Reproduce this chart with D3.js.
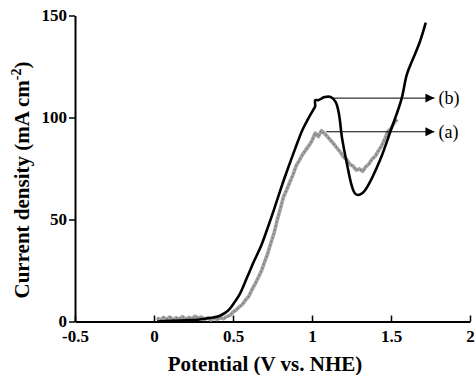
<!DOCTYPE html>
<html><head><meta charset="utf-8">
<script src="https://cdn.jsdelivr.net/npm/d3@7"></script>
<style>body{margin:0;background:#fff}</style>
</head><body>
<svg id="c" width="475" height="375"></svg>
<script>
// Data (Potential V vs NHE, current density mA cm-2)
const curveB = [[0.02,0],[0.1,0.3],[0.2,0.6],[0.29,1.0],[0.36,1.8],[0.41,2.6],[0.45,4.2],[0.475,5.8],[0.51,9.5],[0.54,13],[0.59,21.8],[0.63,29],[0.68,37.5],[0.72,46],[0.76,55],[0.82,69],[0.89,84],[0.94,94],[0.98,100],[1.01,104],[1.02,105.5],[1.02,108.5],[1.04,108.5],[1.08,110],[1.12,110],[1.15,107.5],[1.17,102],[1.19,90],[1.22,77.7],[1.25,67],[1.27,63],[1.29,62],[1.32,63],[1.35,66],[1.43,79],[1.50,94],[1.565,108.6],[1.60,121],[1.635,128],[1.68,136.5],[1.72,146.5]];
const curveA = [[0.02,1.8],[0.04,0.6],[0.06,2.0],[0.08,1.0],[0.10,2.2],[0.12,0.8],[0.14,1.8],[0.16,1.2],[0.18,2.4],[0.20,1.0],[0.22,2.0],[0.24,1.4],[0.26,2.6],[0.28,1.6],[0.30,2.2],[0.32,1.0],[0.34,1.8],[0.36,0.8],[0.38,1.6],[0.40,1.0],[0.42,1.8],[0.44,1.4],[0.46,2.4],[0.48,3.0],[0.50,4.6],[0.52,5.6],[0.54,7.2],[0.56,8.4],[0.58,10.6],[0.60,12.4],[0.62,15.6],[0.64,18.4],[0.66,21.6],[0.68,24.8],[0.70,29.2],[0.72,33.4],[0.74,38.6],[0.76,43.4],[0.78,49.8],[0.80,55.4],[0.82,61.2],[0.84,64.6],[0.86,68.4],[0.88,72.0],[0.90,76.4],[0.92,79.0],[0.94,81.8],[0.96,84.0],[0.98,86.2],[1.00,88.6],[1.02,92.4],[1.04,90.6],[1.06,93.6],[1.08,92.0],[1.10,90.4],[1.12,88.6],[1.14,86.8],[1.16,84.8],[1.18,83.0],[1.20,80.6],[1.22,79.4],[1.24,77.0],[1.26,76.2],[1.28,74.2],[1.30,74.8],[1.32,73.6],[1.34,75.8],[1.36,77.2],[1.38,79.6],[1.40,81.0],[1.42,83.6],[1.44,86.0],[1.46,89.4],[1.48,93.2],[1.50,94.6],[1.52,97.4],[1.54,99.0]];
const xTicks = [-0.5,0,0.5,1,1.5,2];
const xTickLabels = ["-0.5","0","0.5","1","1.5","2"];
const yTicks = [0,50,100,150];
const labels = [{name:"(b)", from:[1.13,109.5], to:1.775},{name:"(a)", from:[1.09,93], to:1.775}];

const svg = d3.select("#c");
const x = d3.scaleLinear().domain([-0.5,2]).range([75,470]);
const y = d3.scaleLinear().domain([0,150]).range([321.5,15.5]);
const font = "'Liberation Serif', 'Times New Roman', serif";

const xAxis = d3.axisBottom(x).tickValues(xTicks).tickFormat((d,i)=>xTickLabels[i]).tickSizeInner(-6).tickSizeOuter(0).tickPadding(8);
const gx = svg.append("g").attr("transform",`translate(0,${y(0)})`).call(xAxis);
gx.attr("font-family",null);
gx.select(".domain").attr("stroke","#000").attr("stroke-width",2);
gx.selectAll(".tick line").attr("stroke","#000").attr("stroke-width",1.5);
gx.selectAll("text").style("font-family",font).style("font-weight","bold").style("font-size","17px").attr("fill","#000");

const yAxis = d3.axisLeft(y).tickValues(yTicks).tickSizeInner(6).tickSizeOuter(0).tickPadding(2);
const gy = svg.append("g").attr("transform",`translate(${x(-0.5)},0)`).call(yAxis);
gy.attr("font-family",null);
gy.select(".domain").attr("stroke","#000").attr("stroke-width",2);
gy.selectAll(".tick line").attr("stroke","#000").attr("stroke-width",1.5);
gy.selectAll("text").style("font-family",font).style("font-weight","bold").style("font-size","17px").attr("fill","#000");

const lineA = d3.line().x(d=>x(d[0])).y(d=>y(d[1]));
svg.append("path").datum(curveA).attr("d",lineA).attr("fill","none").attr("stroke","#a3a3a3").attr("stroke-width",3.6).attr("stroke-linejoin","round");
svg.append("path").datum(curveA).attr("d",lineA).attr("fill","none").attr("stroke","#7d7d7d").attr("stroke-width",1.6).attr("stroke-dasharray","1.5,2.5");
const lineB = d3.line().x(d=>x(d[0])).y(d=>y(d[1])).curve(d3.curveCatmullRom.alpha(0.5));
svg.append("path").datum(curveB).attr("d",lineB).attr("fill","none").attr("stroke","#000").attr("stroke-width",2.6).attr("stroke-linejoin","round");

svg.append("defs").append("marker").attr("id","ah").attr("viewBox","0 0 10 10").attr("refX",10).attr("refY",5)
  .attr("markerWidth",11).attr("markerHeight",9).attr("markerUnits","userSpaceOnUse").attr("orient","auto")
  .append("path").attr("d","M0,0L10,5L0,10Z").attr("fill","#000");

labels.forEach(l=>{
  svg.append("line").attr("x1",x(l.from[0])).attr("y1",y(l.from[1])).attr("x2",x(l.to)).attr("y2",y(l.from[1]))
    .attr("stroke","#000").attr("stroke-width",1).attr("marker-end","url(#ah)");
  svg.append("text").attr("x",x(l.to)+4).attr("y",y(l.from[1])+6).style("font-family",font).style("font-size","18px").attr("fill","#000").text(l.name);
});

svg.append("text").attr("x",265).attr("y",371).attr("text-anchor","middle").style("font-family",font).style("font-weight","bold").style("font-size","21px").text("Potential (V vs. NHE)");
const yt = svg.append("text").attr("transform","translate(29,180) rotate(-90)").attr("text-anchor","middle").style("font-family",font).style("font-weight","bold").style("font-size","21px");
yt.append("tspan").text("Current density (mA cm");
yt.append("tspan").attr("dy",-8).style("font-size","14px").text("-2");
yt.append("tspan").attr("dy",8).text(")");
</script>
</body></html>
